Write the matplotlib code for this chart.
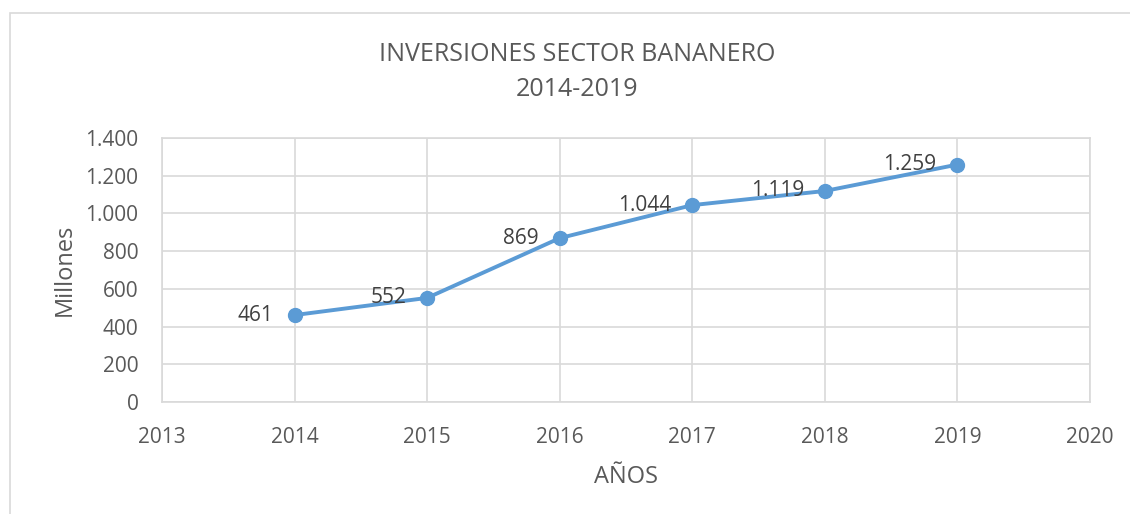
import matplotlib.pyplot as plt
from matplotlib.patches import Rectangle
from matplotlib.ticker import FuncFormatter

plt.rcParams['font.family'] = ['Open Sans', 'DejaVu Sans']

anios = [2014, 2015, 2016, 2017, 2018, 2019]
inversion = [461, 552, 869, 1044, 1119, 1259]

gris = '#595959'
azul = '#5b9bd5'


def miles(v, pos=None):
    return f"{int(v):,}".replace(",", ".")


fig = plt.figure(figsize=(11.3, 5.14), dpi=100)
fig.patches.append(Rectangle((10 / 1130, -0.1), 1.2, (514 - 13) / 514 + 0.1,
                             transform=fig.transFigure, fill=False,
                             edgecolor='#d9d9d9', linewidth=1.2))
ax = fig.add_axes([162 / 1130, 112 / 514, 928 / 1130, 264 / 514])

ax.plot(anios, inversion, color=azul, linewidth=2.8, marker='o',
        markersize=10, zorder=3)
for x, y in zip(anios, inversion):
    ax.annotate(miles(y), (x, y), xytext=(-15, 0), textcoords='offset points',
                ha='right', va='center', fontsize=15, color='#404040', zorder=4)

ax.set_xlim(2013, 2020)
ax.set_ylim(0, 1400)
ax.set_xticks(range(2013, 2021))
ax.set_yticks(range(0, 1401, 200))
ax.yaxis.set_major_formatter(FuncFormatter(miles))
ax.grid(True, color='#d9d9d9', linewidth=1.2)
ax.set_axisbelow(True)
for s in ax.spines.values():
    s.set_color('#d9d9d9')
    s.set_linewidth(1.2)
ax.tick_params(length=0, labelsize=15, colors=gris)
ax.tick_params(axis='x', pad=18)
ax.tick_params(axis='y', pad=17)

ax.set_ylabel('Millones', fontsize=17, color=gris, labelpad=6)
ax.set_xlabel('AÑOS', fontsize=17, color=gris, labelpad=12)
fig.text(0.511, 0.86, 'INVERSIONES SECTOR BANANERO\n2014-2019', ha='center',
         va='center', fontsize=18, color=gris, linespacing=1.5)

fig.savefig('out.png', dpi=100)
